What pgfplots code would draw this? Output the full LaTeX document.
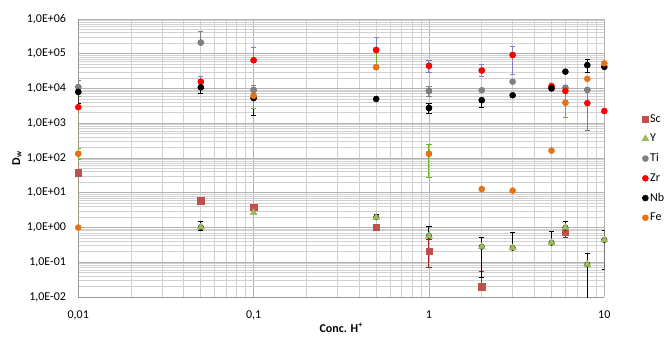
\documentclass[border=0pt]{standalone}
\usepackage{fontspec}
\setmainfont{Carlito}
\usepackage{pgfplots}
\pgfplotsset{compat=1.18}
\definecolor{cSc}{RGB}{192,80,77}
\definecolor{cY}{RGB}{155,187,89}
\definecolor{cTi}{RGB}{128,128,128}
\definecolor{cZr}{RGB}{255,0,0}
\definecolor{cNb}{RGB}{0,0,0}
\definecolor{cFe}{RGB}{232,114,20}
\definecolor{eZr}{RGB}{128,128,190}
\definecolor{eFe}{RGB}{102,180,40}
\definecolor{eSc}{RGB}{150,40,40}
\definecolor{eTan}{RGB}{168,154,106}
\pgfplotsset{
  mylegend/.style={legend image code/.code={\draw[mark repeat=2,mark phase=2,##1] plot coordinates {(0cm,0cm)(0.12cm,0cm)(0.24cm,0cm)};}},
  errp/.style={forget plot, only marks, mark=none,
    error bars/.cd, y dir=both, y explicit,
    error bar style={line width=0.75pt, color=#1},
    error mark options={color=#1, line width=0.75pt, mark size=1.9pt, rotate=90}},
}
\begin{document}
\begin{tikzpicture}
\begin{axis}[
  at={(0,0)}, anchor=south west,
  scale only axis, width=394.5pt, height=208.5pt,
  xmode=log, ymode=log,
  xmin=0.01, xmax=10, ymin=0.01, ymax=1e6,
  xtick={0.01,0.1,1,10},
  xticklabels={{0,01},{0,1},{1},{10}},
  ytick={1e-2,1e-1,1,1e1,1e2,1e3,1e4,1e5,1e6},
  yticklabels={{1,0E-02},{1,0E-01},{1,0E+00},{1,0E+01},{1,0E+02},{1,0E+03},{1,0E+04},{1,0E+05},{1,0E+06}},
  minor xtick={0.02,0.03,0.04,0.05,0.06,0.07,0.08,0.09,0.2,0.3,0.4,0.5,0.6,0.7,0.8,0.9,2,3,4,5,6,7,8,9},
  minor ytick={2e-2,3e-2,4e-2,5e-2,6e-2,7e-2,8e-2,9e-2,
               2e-1,3e-1,4e-1,5e-1,6e-1,7e-1,8e-1,9e-1,
               2,3,4,5,6,7,8,9,
               2e1,3e1,4e1,5e1,6e1,7e1,8e1,9e1,
               2e2,3e2,4e2,5e2,6e2,7e2,8e2,9e2,
               2e3,3e3,4e3,5e3,6e3,7e3,8e3,9e3,
               2e4,3e4,4e4,5e4,6e4,7e4,8e4,9e4,
               2e5,3e5,4e5,5e5,6e5,7e5,8e5,9e5},
  grid=both,
  major grid style={color=black!30, line width=0.7pt},
  minor grid style={color=black!18, line width=0.6pt},
  axis x line*=bottom, axis y line*=left,
  axis line style={color=black!40, line width=0.7pt, -},
  x axis line style={-}, y axis line style={-},
  major tick length=0pt, minor tick length=0pt,
  tick style={draw=none},
  xticklabel style={font=\fontsize{9}{10}\selectfont, inner sep=0pt, anchor=north, yshift=-10pt},
  yticklabel style={font=\fontsize{9}{10}\selectfont, inner sep=0pt, anchor=east, xshift=-9pt},
  every axis x label/.style={at={(axis description cs:0.5,0)}, yshift=-23pt, anchor=center, font=\fontsize{9}{10}\selectfont\bfseries},
  every axis y label/.style={at={(axis description cs:0,0.5)}, xshift=-46pt, rotate=90, anchor=center, font=\fontsize{9}{10}\selectfont\bfseries},
  xlabel={Conc. H\textsuperscript{+}},
  ylabel={D\textsubscript{w}},
  legend style={at={(axis description cs:1,0.462)}, anchor=west, xshift=28pt,
    draw=none, fill=none, font=\fontsize{9}{10}\selectfont, row sep=5.3pt,
    inner sep=0pt, nodes={inner sep=1pt, anchor=west}},
  legend cell align=left,
  clip=true,
]
% ---------- Sc ----------
\addplot[errp=eTan] coordinates {(0.01,38) += (0,6000) -= (0,37)};
\addplot[errp=eSc] coordinates {
  (1,0.207) += (0,0.25) -= (0,0.135)
  (2,0.0198) += (0,0.034) -= (0,0)
  (6,0.72) += (0,0) -= (0,0.2)
};
\addplot[only marks, mylegend, mark=square*, mark size=2.4pt, color=cSc, mark options={fill=cSc, draw=cSc}] coordinates {
  (0.01,38) (0.05,5.9) (0.1,3.9) (0.5,1.03) (1,0.207) (2,0.0198) (6,0.72)
};
\addlegendentry{Sc}
% ---------- Y ----------
\addplot[errp=black] coordinates {
  (0.05,1.03) += (0,0.47) -= (0,0.23)
  (0.5,1.97) += (0,0.35) -= (0,0)
  (1,0.57) += (0,0.5) -= (0,0)
  (2,0.28) += (0,0.24) -= (0,0.243)
  (3,0.26) += (0,0.45) -= (0,0)
  (5,0.366) += (0,0.41) -= (0,0)
  (6,0.99) += (0,0.5) -= (0,0)
  (8,0.087) += (0,0.093) -= (0,0.085)
  (10,0.44) += (0,0.39) -= (0,0.38)
};
\addplot[only marks, mylegend, mark=triangle*, mark size=3pt, color=cY, mark options={fill=cY, draw=cY}] coordinates {
  (0.05,1.03) (0.1,2.67) (0.5,1.97) (1,0.57) (2,0.28) (3,0.26) (5,0.366) (6,0.99) (8,0.087) (10,0.44)
};
\addlegendentry{Y}
% ---------- Ti ----------
\addplot[errp=cTi] coordinates {
  (0.01,1.1e4) += (0,6000) -= (0,0)
  (0.05,2.1e5) += (0,2.2e5) -= (0,0)
  (0.1,9.1e3) += (0,3500) -= (0,0)
  (1,8.5e3) += (0,2800) -= (0,2800)
  (6,1.05e4) += (0,1500) -= (0,0)
  (8,9.1e3) += (0,0) -= (0,8460)
};
\addplot[only marks, mylegend, mark=*, mark size=2.25pt, color=cTi, mark options={fill=cTi, draw=cTi}] coordinates {
  (0.01,1.1e4) (0.05,2.1e5) (0.1,9.1e3) (1,8.5e3) (2,8.9e3) (3,1.57e4) (5,1.0e4) (6,1.05e4) (8,9.1e3)
};
\addlegendentry{Ti}
% ---------- Zr ----------
\addplot[errp=eZr] coordinates {
  (0.05,1.57e4) += (0,7000) -= (0,0)
  (0.1,6.5e4) += (0,8.5e4) -= (0,0)
  (0.5,1.28e5) += (0,1.7e5) -= (0,0)
  (1,4.5e4) += (0,2e4) -= (0,1.7e4)
  (2,3.3e4) += (0,1.7e4) -= (0,1.1e4)
  (3,9.2e4) += (0,6.8e4) -= (0,6.6e4)
};
\addplot[only marks, mylegend, mark=*, mark size=2.25pt, color=cZr, mark options={fill=cZr, draw=cZr}] coordinates {
  (0.01,2.9e3) (0.05,1.57e4) (0.1,6.5e4) (0.5,1.28e5) (1,4.5e4) (2,3.3e4) (3,9.2e4) (5,1.18e4) (6,8.5e3) (8,3.8e3) (10,2.25e3)
};
\addlegendentry{Zr}
% ---------- Nb ----------
\addplot[errp=black] coordinates {
  (0.01,8e3) += (0,0) -= (0,4300)
  (0.05,1.08e4) += (0,0) -= (0,3600)
  (0.1,5.3e3) += (0,0) -= (0,3600)
  (1,2.75e3) += (0,850) -= (0,850)
  (2,4.6e3) += (0,0) -= (0,1850)
  (5,1.01e4) += (0,1500) -= (0,1500)
  (8,4.7e4) += (0,2.2e4) -= (0,1.75e4)
};
\addplot[only marks, mylegend, mark=*, mark size=2.25pt, color=cNb, mark options={fill=cNb, draw=cNb}] coordinates {
  (0.01,8e3) (0.05,1.08e4) (0.1,5.3e3) (0.5,5.0e3) (1,2.75e3) (2,4.6e3) (3,6.4e3) (5,1.01e4) (6,3.05e4) (8,4.7e4) (10,4.2e4)
};
\addlegendentry{Nb}
% ---------- Fe ----------
\addplot[errp=eFe] coordinates {
  (0.01,133) += (0,57) -= (0,44)
  (0.1,6.2e3) += (0,0) -= (0,3600)
  (0.5,4.1e4) += (0,8.7e4) -= (0,0)
  (1,133) += (0,115) -= (0,105)
  (6,3.9e3) += (0,6000) -= (0,2450)
};
\addplot[only marks, mylegend, mark=*, mark size=2.25pt, color=cFe, mark options={fill=cFe, draw=cFe}] coordinates {
  (0.01,133) (0.01,1.0) (0.1,6.2e3) (0.5,4.1e4) (1,133) (2,12.8) (3,11.5) (5,163) (6,3.9e3) (8,1.9e4) (10,5.3e4)
};
\addlegendentry{Fe}
\end{axis}
\pgfresetboundingbox
\useasboundingbox (-58.7pt,-29.25pt) rectangle (441.5pt,222.75pt);
\end{tikzpicture}
\end{document}
